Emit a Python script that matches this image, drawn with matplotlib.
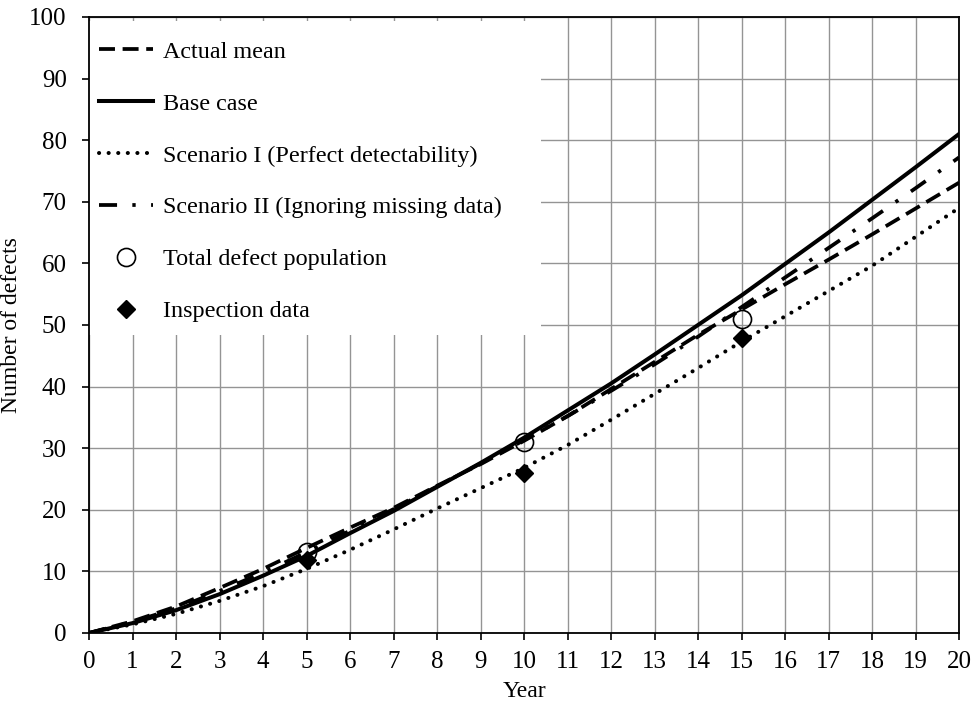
import matplotlib
matplotlib.use("Agg")
import matplotlib.pyplot as plt
from matplotlib.patches import Rectangle

# data
years = list(range(0, 21))
actual_mean = [0, 1.9, 4.3, 7.3, 10.4, 13.8, 17.1, 20.3, 23.9, 27.4, 31.2,
               35.2, 39.6, 44.0, 48.4, 52.5, 56.6, 60.6, 64.7, 68.9, 73.1]
base_case = [0, 1.6, 3.7, 6.3, 9.3, 12.5, 16.2, 19.8, 23.7, 27.6, 31.7,
             36.1, 40.5, 45.2, 50.0, 54.8, 59.9, 65.0, 70.3, 75.6, 81.0]
scenario_1 = [0, 1.4, 3.1, 5.2, 7.6, 10.4, 13.5, 16.8, 20.2, 23.5, 26.8,
              30.5, 34.6, 38.8, 43.0, 47.3, 51.4, 55.5, 59.6, 64.3, 69.0]
scenario_2 = [0, 1.8, 4.0, 6.8, 9.8, 13.1, 16.6, 20.1, 23.8, 27.5, 31.3,
              35.2, 39.3, 43.6, 48.1, 52.9, 57.7, 62.5, 67.3, 72.2, 77.2]
insp_years = [5, 10, 15]
total_pop = [13.2, 31.0, 51.0]
inspection = [11.9, 25.9, 47.9]

plt.rcParams['font.family'] = ['Liberation Serif', 'DejaVu Serif']
plt.rcParams['lines.scale_dashes'] = False

fig = plt.figure(figsize=(9.75, 7.02), dpi=100)
ax = fig.add_axes([0.0913, 0.0983, 0.8923, 0.8775])

ax.plot(years, actual_mean, color='black', lw=2.7, dashes=(11.5, 5.5),
        dash_capstyle='butt', label='Actual mean', zorder=4)
ax.plot(years, base_case, color='black', lw=2.9, label='Base case', zorder=4)
ax.plot(years, scenario_1, color='black', lw=2.9, dashes=(0.1, 6.8),
        dash_capstyle='round', label='Scenario I (Perfect detectability)', zorder=4)
ax.plot(years, scenario_2, color='black', lw=2.7, dashes=(13, 11, 2.4, 11.1),
        dash_capstyle='butt', label='Scenario II (Ignoring missing data)', zorder=4)
ax.plot(insp_years, total_pop, linestyle='none', marker='o', ms=13,
        mfc='none', mec='black', mew=1.2, label='Total defect population', zorder=5)
ax.plot(insp_years, inspection, linestyle='none', marker='D', ms=9,
        mfc='black', mec='black', label='Inspection data', zorder=5)

ax.set_xlim(0, 20)
ax.set_ylim(0, 100)
ax.set_xticks(range(0, 21))
ax.set_yticks(range(0, 101, 10))
ax.grid(True, color='#949494', lw=1.0, zorder=0)
ax.set_axisbelow(True)
for s in ax.spines.values():
    s.set_linewidth(1.3)
ax.tick_params(axis='x', direction='out', length=5, width=1.2, labelsize=18, pad=8)
ax.tick_params(axis='y', direction='out', length=5, width=1.2, labelsize=18, pad=11)

ax.set_xlabel('Year', fontsize=17)
ax.set_ylabel('Number of defects', fontsize=17)
ax.xaxis.set_label_coords(0.5, -0.078)
ax.yaxis.set_label_coords(-0.077, 0.5)

# white area behind the legend hides the grid
ax.add_patch(Rectangle((0, 0.484), 0.52, 0.51, transform=ax.transAxes,
                       facecolor='white', edgecolor='none', zorder=1))

ax.legend(loc='upper left', bbox_to_anchor=(0.0, 0.977), frameon=False,
          fontsize=17.4, handlelength=2.25, handletextpad=0.4,
          labelspacing=1.24, borderaxespad=0, numpoints=1)

plt.savefig('out.png', dpi=100)
